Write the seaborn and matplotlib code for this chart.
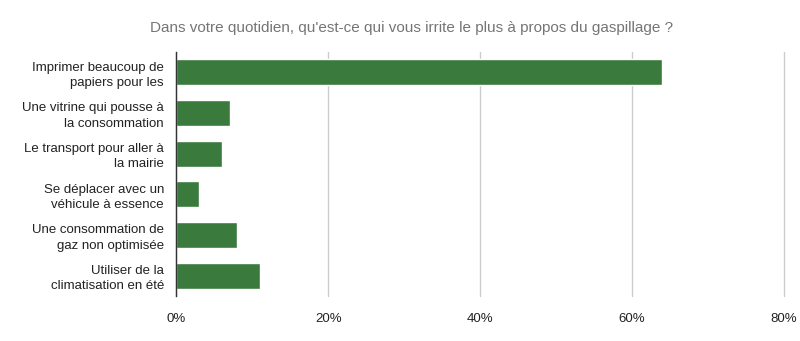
import matplotlib
matplotlib.use("Agg")
import matplotlib.pyplot as plt
import seaborn as sns
import pandas as pd
from matplotlib.ticker import FuncFormatter

categories = [
    "Imprimer beaucoup de\npapiers pour les",
    "Une vitrine qui pousse à\nla consommation",
    "Le transport pour aller à\nla mairie",
    "Se déplacer avec un\nvéhicule à essence",
    "Une consommation de\ngaz non optimisée",
    "Utiliser de la\nclimatisation en été",
]
values = [64, 7, 6, 3, 8, 11]
x_ticks = [0, 20, 40, 60, 80]
title = "Dans votre quotidien, qu'est-ce qui vous irrite le plus à propos du gaspillage ?"

sns.set_theme(style="white")
plt.rcParams['font.family'] = ['Liberation Sans', 'DejaVu Sans']

df = pd.DataFrame({"cat": categories, "val": values})

fig = plt.figure(figsize=(8, 3.41), dpi=100)
ax = fig.add_axes([0.2206, 0.132, 0.7594, 0.7155])

sns.barplot(data=df, y="cat", x="val", color="#3a7a3d", saturation=1,
            width=0.64, ax=ax, orient="h")

ax.set_xlim(0, 80)
ax.set_xticks(x_ticks)
ax.xaxis.set_major_formatter(FuncFormatter(lambda v, p: f"{int(v)}%"))
ax.grid(axis="x", color="#cccccc", linewidth=1)
for gl in ax.get_xgridlines():
    gl.set_clip_on(False)
ax.set_axisbelow(True)
for s in ["top", "right", "bottom"]:
    ax.spines[s].set_visible(False)
ax.spines["left"].set_color("#333333")
ax.spines["left"].set_linewidth(1)
ax.set_xlabel("")
ax.set_ylabel("")
ax.tick_params(axis="x", length=0, pad=12, labelsize=9.5, labelcolor="#222222")
ax.tick_params(axis="y", length=0, pad=9, labelsize=9.5, labelcolor="#222222")
for lbl in ax.get_yticklabels():
    lbl.set_horizontalalignment("right")
    lbl.set_multialignment("right")
    lbl.set_linespacing(1.35)

fig.text(0.515, 0.918, title, ha="center", va="center", fontsize=11, color="#757575")

fig.savefig("out.png", dpi=100)
